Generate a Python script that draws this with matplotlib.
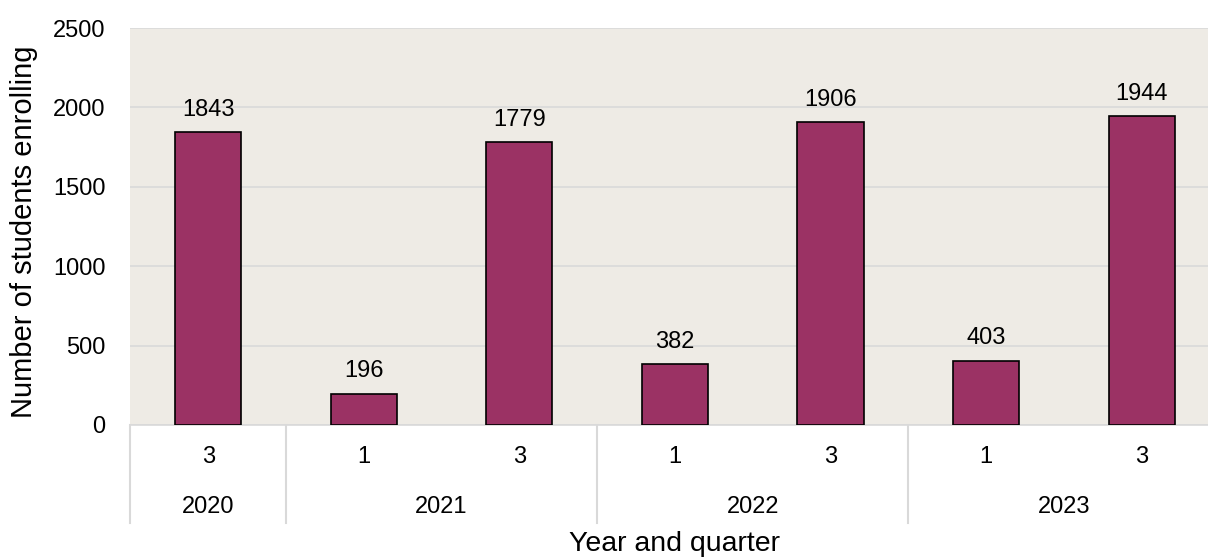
import matplotlib.pyplot as plt
import matplotlib.transforms as mtransforms

# Data
years = ["2020", "2021", "2021", "2022", "2022", "2023", "2023"]
quarters = ["3", "1", "3", "1", "3", "1", "3"]
students = [1843, 196, 1779, 382, 1906, 403, 1944]

plt.rcParams['font.family'] = ['Liberation Sans', 'DejaVu Sans']

fig = plt.figure(figsize=(12.08, 5.58), dpi=100)
# plot area runs slightly past the right edge of the image, as in the original
ax = fig.add_axes([0.108, 0.2384, 0.9015, 0.7114])
ax.set_facecolor('#EEEBE5')

x = list(range(len(students)))
ax.bar(x, students, width=0.425, color='#9B3264', edgecolor='black', linewidth=1.2, zorder=3)

for xi, v in zip(x, students):
    ax.annotate(str(v), (xi, v), xytext=(0, 12), textcoords='offset points',
                ha='center', va='baseline', fontsize=17)

ax.set_xlim(-0.5, len(students) - 0.5)
ax.set_ylim(0, 2500)
ax.set_yticks(range(0, 2501, 500))
ax.tick_params(axis='y', labelsize=17, length=0, pad=18)
ax.tick_params(axis='x', length=0, labelbottom=False)
ax.yaxis.grid(True, color='#D9D9D9', linewidth=1.2, zorder=0)
ax.set_axisbelow(True)
for s in ['left', 'right', 'top']:
    ax.spines[s].set_visible(False)
ax.spines['bottom'].set_color('#D9D9D9')
ax.spines['bottom'].set_linewidth(1.2)

ax.set_ylabel("Number of students enrolling", fontsize=21)
ax.yaxis.set_label_coords(-0.085, 0.487)

trans = mtransforms.blended_transform_factory(ax.transData, ax.transAxes)

# quarter labels
for xi, q in zip(x, quarters):
    ax.text(xi, -0.081, q, transform=trans, ha='center', va='center', fontsize=17)

# year groups
groups = []
for i, y in enumerate(years):
    if groups and groups[-1][0] == y:
        groups[-1][2] = i
    else:
        groups.append([y, i, i])
for y, start, end in groups:
    ax.text((start + end) / 2, -0.207, y, transform=trans, ha='center', va='center', fontsize=17)
    ax.plot([start - 0.5, start - 0.5], [0, -0.247], transform=trans, color='#D9D9D9',
            linewidth=1.5, clip_on=False)

ax.text(0.5, -0.30, "Year and quarter", transform=ax.transAxes, ha='center', va='center', fontsize=20.5)

fig.savefig("out.png", dpi=100)
